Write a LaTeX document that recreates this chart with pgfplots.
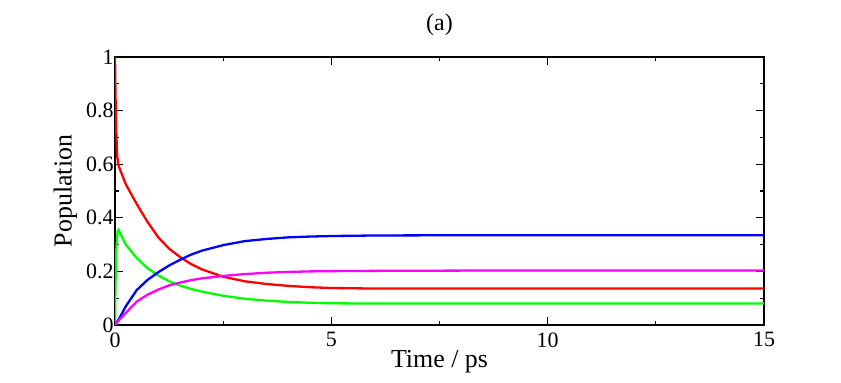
\documentclass[border=0pt]{standalone}
\usepackage{fontspec}
\setmainfont{Liberation Serif}
\usepackage{pgfplots}
\pgfplotsset{compat=1.18}
\definecolor{cRed}{RGB}{255,0,0}
\definecolor{cGreen}{RGB}{0,255,0}
\definecolor{cBlue}{RGB}{0,0,255}
\definecolor{cMag}{RGB}{255,0,255}

\begin{document}
\begin{tikzpicture}[x=1bp,y=1bp]
  % fix the page to the reference size
  \path[use as bounding box] (0,0) rectangle (841,382);
  \begin{axis}[
    at={(115bp,57bp)},
    anchor=south west,
    scale only axis,
    width=649bp,
    height=268bp,
    xmin=0, xmax=15,
    ymin=0, ymax=1,
    xtick={0,5,10,15},
    ytick={0,0.2,0.4,0.6,0.8,1},
    yticklabels={0,0.2,0.4,0.6,0.8,1},
    minor x tick num=1,
    minor y tick num=1,
    tick align=inside,
    major tick length=8bp,
    minor tick length=4bp,
    axis line style={line width=1.2bp},
    every tick/.style={black, line width=1.2bp},
    tick label style={font=\fontsize{22}{26}\selectfont},
    /pgf/number format/assume math mode=true,
    xticklabel style={yshift=-4bp},
    yticklabel style={xshift=2bp},
    xlabel={Time / ps},
    ylabel={Population},
    label style={font=\fontsize{26}{30}\selectfont},
    xlabel style={yshift=4bp},
    ylabel style={yshift=2bp},
    title={(a)},
    title style={font=\fontsize{24}{28}\selectfont, yshift=12bp},
    every axis plot/.style={line width=2.3bp, no markers},
  ]
    % red
    \addplot[color=cRed] coordinates {
      (0,1.0) (0.01,0.87) (0.03,0.72) (0.05,0.63) (0.08,0.595)
      (0.25,0.525) (0.5,0.452) (0.75,0.385) (1.0,0.327) (1.25,0.285)
      (1.5,0.254) (1.75,0.228) (2.0,0.208) (2.5,0.180) (3.0,0.163)
      (3.5,0.153) (4.0,0.146) (4.5,0.141) (5,0.138) (6,0.136) (15,0.136)
    };
    % green
    \addplot[color=cGreen] coordinates {
      (0,0) (0.01,0.14) (0.03,0.28) (0.06,0.35) (0.08,0.355)
      (0.25,0.30) (0.5,0.25) (0.75,0.212) (1.0,0.185) (1.25,0.163)
      (1.5,0.147) (1.75,0.135) (2.0,0.125) (2.5,0.109) (3.0,0.098)
      (3.5,0.091) (4.0,0.086) (4.5,0.083) (5,0.081) (6,0.080) (15,0.080)
    };
    % blue
    \addplot[color=cBlue] coordinates {
      (0,0) (0.1,0.025) (0.25,0.07) (0.5,0.13) (0.75,0.168) (1.0,0.197)
      (1.25,0.222) (1.5,0.243) (1.75,0.262) (2.0,0.277) (2.5,0.298)
      (3.0,0.313) (3.5,0.321) (4.0,0.327) (4.5,0.330) (5,0.332)
      (6,0.334) (8,0.335) (15,0.335)
    };
    % magenta
    \addplot[color=cMag] coordinates {
      (0,0) (0.1,0.02) (0.25,0.045) (0.5,0.087) (0.75,0.113) (1.0,0.132)
      (1.25,0.148) (1.5,0.158) (1.75,0.167) (2.0,0.174) (2.5,0.183)
      (3.0,0.190) (3.5,0.195) (4.0,0.198) (4.5,0.200) (5,0.201)
      (6,0.202) (8,0.203) (15,0.203)
    };
  \end{axis}
\end{tikzpicture}
\end{document}
